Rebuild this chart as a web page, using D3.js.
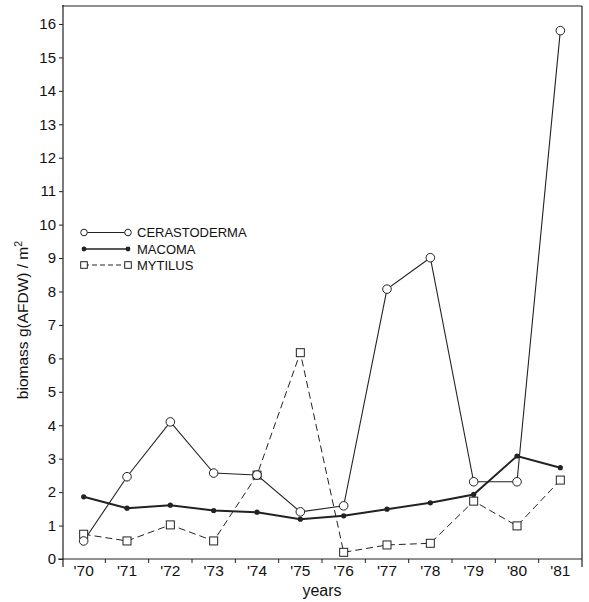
<!DOCTYPE html>
<html><head><meta charset="utf-8">
<script src="https://cdn.jsdelivr.net/npm/d3@7"></script>
<style>body{margin:0;background:#fff;} svg{display:block;} text{font-family:"Liberation Sans",Arial,sans-serif;fill:#111;}</style>
</head><body><svg id="c" width="589" height="602"></svg>
<script>
const years = ["'70","'71","'72","'73","'74","'75","'76","'77","'78","'79","'80","'81"];
const cerastoderma = [0.54,2.46,4.10,2.57,2.51,1.41,1.59,8.07,9.01,2.31,2.31,15.8];
const macoma = [1.86,1.52,1.61,1.45,1.40,1.19,1.29,1.49,1.68,1.93,3.08,2.73];
const mytilus = [0.74,0.54,1.02,0.54,2.51,6.17,0.20,0.42,0.47,1.73,0.99,2.36];
const yTicks = d3.range(0,17);
const seriesNames = ["CERASTODERMA","MACOMA","MYTILUS"];

const svg = d3.select("#c");
const L=62, R=582, T=6, B=559;
const x = d3.scaleBand().domain(years).range([L,R]);
const y = d3.scaleLinear().domain([0,16]).range([B, B-16*33.44]);
const cx = d => x(d)+x.bandwidth()/2;

// frame
svg.append("line").attr("x1",L).attr("x2",R).attr("y1",T).attr("y2",T).attr("stroke","#222").attr("stroke-width",1.2);
svg.append("line").attr("x1",R).attr("x2",R).attr("y1",T).attr("y2",567).attr("stroke","#222").attr("stroke-width",1.2);
svg.append("line").attr("x1",L+1).attr("x2",L+1).attr("y1",T-1).attr("y2",567).attr("stroke","#222").attr("stroke-width",1.2);

// y axis
const ya = svg.append("g").attr("transform",`translate(${L+1},0)`)
  .call(d3.axisLeft(y).tickValues(yTicks).tickSize(4).tickPadding(3).tickFormat(d3.format("d")));
ya.select(".domain").remove();
ya.selectAll("line").attr("stroke","#222");
ya.selectAll("text").style("font-size","15px").attr("fill","#111");

// x axis
svg.append("line").attr("x1",L-4).attr("x2",R).attr("y1",B).attr("y2",B).attr("stroke","#222").attr("stroke-width",1.2);
svg.append("g").selectAll("line").data(years.slice(1)).join("line")
  .attr("x1",d=>x(d)).attr("x2",d=>x(d)).attr("y1",B).attr("y2",B+4).attr("stroke","#222");
svg.append("g").selectAll("text").data(years).join("text")
  .attr("x",d=>cx(d)).attr("y",576).attr("text-anchor","middle").style("font-size","15.5px").text(d=>d);

svg.append("text").attr("x",322).attr("y",596).attr("text-anchor","middle").style("font-size","16px").text("years");
const yt = svg.append("text").attr("transform","translate(28,320) rotate(-90)").attr("text-anchor","middle").style("font-size","15.5px");
yt.append("tspan").text("biomass  g(AFDW) / m");
yt.append("tspan").attr("dy",-6).style("font-size","10.5px").text("2");

const line = d3.line().x((d,i)=>cx(years[i])).y(d=>y(d));
const g = svg.append("g");
// mytilus
g.append("path").datum(mytilus).attr("d",line).attr("fill","none").attr("stroke","#222").attr("stroke-width",1).attr("stroke-dasharray","7,4");
// macoma
g.append("path").datum(macoma).attr("d",line).attr("fill","none").attr("stroke","#222").attr("stroke-width",2);
// cerastoderma
g.append("path").datum(cerastoderma).attr("d",line).attr("fill","none").attr("stroke","#222").attr("stroke-width",1.1);

g.selectAll(".sq").data(mytilus).join("rect").attr("class","sq")
  .attr("x",(d,i)=>cx(years[i])-4).attr("y",d=>y(d)-4).attr("width",8).attr("height",8)
  .attr("fill","#fff").attr("stroke","#222").attr("stroke-width",1);
g.selectAll(".dot").data(macoma).join("circle").attr("class","dot")
  .attr("cx",(d,i)=>cx(years[i])).attr("cy",d=>y(d)).attr("r",2.6).attr("fill","#222");
g.selectAll(".ci").data(cerastoderma).join("circle").attr("class","ci")
  .attr("cx",(d,i)=>cx(years[i])).attr("cy",d=>y(d)).attr("r",4.3)
  .attr("fill","#fff").attr("stroke","#222").attr("stroke-width",1);

// legend
const lg = svg.append("g");
const rows = [232.5,249,265];
const lx1=84, lx2=128;
lg.append("line").attr("x1",lx1).attr("x2",lx2).attr("y1",rows[0]).attr("y2",rows[0]).attr("stroke","#222").attr("stroke-width",1.1);
[lx1,lx2].forEach(px=>lg.append("circle").attr("cx",px).attr("cy",rows[0]).attr("r",3.3).attr("fill","#fff").attr("stroke","#222"));
lg.append("line").attr("x1",lx1).attr("x2",lx2).attr("y1",rows[1]).attr("y2",rows[1]).attr("stroke","#222").attr("stroke-width",1.6);
[lx1,lx2].forEach(px=>lg.append("circle").attr("cx",px).attr("cy",rows[1]).attr("r",2.4).attr("fill","#222"));
lg.append("line").attr("x1",lx1).attr("x2",lx2).attr("y1",rows[2]).attr("y2",rows[2]).attr("stroke","#222").attr("stroke-width",1).attr("stroke-dasharray","5,3");
[lx1,lx2].forEach(px=>lg.append("rect").attr("x",px-3.3).attr("y",rows[2]-3.3).attr("width",6.6).attr("height",6.6).attr("fill","#fff").attr("stroke","#222"));
lg.selectAll("text").data(seriesNames).join("text").attr("x",137).attr("y",(d,i)=>rows[i]+4.5).style("font-size","13px").text(d=>d);
</script></body></html>
